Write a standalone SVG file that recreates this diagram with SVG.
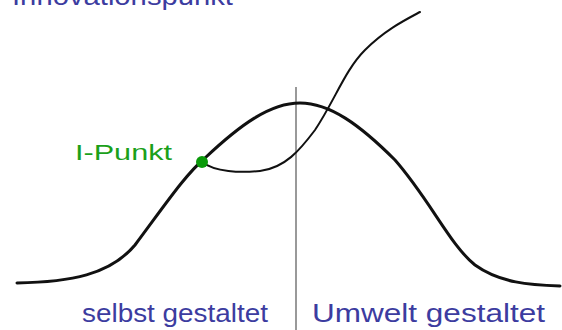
<svg xmlns="http://www.w3.org/2000/svg" width="562" height="330" viewBox="0 0 562 330">
<style>
.lbl{font-family:"Liberation Sans",Arial,sans-serif;fill:#3c3ca0;font-size:26px}
.curve{fill:none;stroke:#111;stroke-linecap:round}
</style>
<rect width="562" height="330" fill="#fff"/>
<g id="connectors">
<line id="divider" x1="296" y1="87" x2="296" y2="330" stroke="#999" stroke-width="2"/>
<path id="bell" class="curve" stroke-width="3" d="M17,283 C70,282 110,275 135,245 C165,205 185,175 205,158 C240,125 270,103 300,103 C330,103 360,125 395,160 C430,200 450,245 475,265 C500,283 530,285 560,286"/>
<path id="innovation" class="curve" stroke-width="2" d="M202,162 C215,172 240,173 260,171 C285,168 300,150 315,130 C335,100 345,70 365,50 C385,30 405,20 420,12"/>
</g>
<g id="ipunkt">
<circle cx="202" cy="162" r="6" fill="#0a9a0a"/>
<text x="75" y="160" font-family="'Liberation Sans',Arial,sans-serif" font-size="22" fill="#1aa01a" textLength="97" lengthAdjust="spacingAndGlyphs">I-Punkt</text>
</g>
<g id="innovationspunkt">
<text class="lbl" x="12" y="5" textLength="221" lengthAdjust="spacingAndGlyphs">Innovationspunkt</text>
</g>
<g id="selbst">
<text class="lbl" x="82" y="322" textLength="186" lengthAdjust="spacingAndGlyphs">selbst gestaltet</text>
</g>
<g id="umwelt">
<text class="lbl" x="312" y="322" textLength="233" lengthAdjust="spacingAndGlyphs">Umwelt gestaltet</text>
</g>
</svg>
